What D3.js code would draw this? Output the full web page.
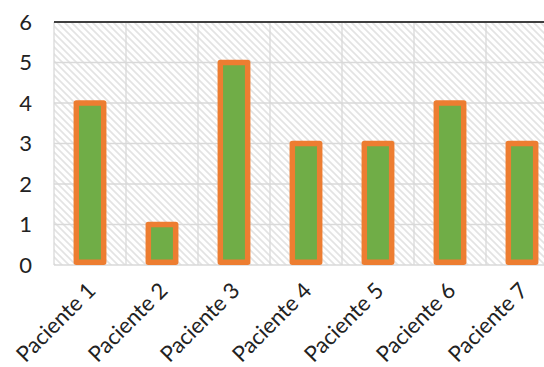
<!DOCTYPE html>
<html>
<head>
<meta charset="utf-8">
<script src="https://cdn.jsdelivr.net/npm/d3@7/dist/d3.min.js"></script>
<style>
  html, body { margin: 0; padding: 0; background: #ffffff; }
  svg { display: block; }
  text { font-family: Lato, "Open Sans", sans-serif; fill: #222222; }
</style>
</head>
<body>
<svg id="chart" width="544" height="367"></svg>
<script>
// Number of events per patient
const categories = ["Paciente 1", "Paciente 2", "Paciente 3", "Paciente 4", "Paciente 5", "Paciente 6", "Paciente 7"];
const values = [4, 1, 5, 3, 3, 4, 3];
const yTicks = [0, 1, 2, 3, 4, 5, 6];

const plot = { left: 54, top: 22, right: 558, bottom: 265 };

const svg = d3.select("#chart");

// Diagonal hatch used as the plot-area fill
const defs = svg.append("defs");
const pat = defs.append("pattern")
  .attr("id", "hatch")
  .attr("patternUnits", "userSpaceOnUse")
  .attr("width", 7).attr("height", 7);
pat.append("rect").attr("width", 7).attr("height", 7).attr("fill", "#ffffff");
pat.append("path")
  .attr("d", "M-2,-2 L9,9 M-2,5 L2,9 M5,-2 L9,2")
  .attr("stroke", "#e3e3e3")
  .attr("stroke-width", 1.6);

defs.append("clipPath").attr("id", "plotClip")
  .append("rect")
  .attr("x", plot.left).attr("y", plot.top)
  .attr("width", plot.right - plot.left)
  .attr("height", plot.bottom - plot.top);

const x = d3.scaleBand()
  .domain(categories)
  .range([plot.left, plot.right])
  .padding(0);

const y = d3.scaleLinear()
  .domain([0, 6])
  .range([plot.bottom, plot.top]);

// Plot background
svg.append("rect")
  .attr("x", plot.left).attr("y", plot.top)
  .attr("width", plot.right - plot.left)
  .attr("height", plot.bottom - plot.top)
  .attr("fill", "url(#hatch)");

// Horizontal gridlines
svg.append("g")
  .selectAll("line")
  .data(yTicks)
  .join("line")
  .attr("x1", plot.left).attr("x2", plot.right)
  .attr("y1", d => y(d)).attr("y2", d => y(d))
  .attr("stroke", "#d9d9d9")
  .attr("stroke-width", 1.3);

// Vertical gridlines at category boundaries
const bounds = categories.map(c => x(c)).concat([x(categories[categories.length - 1]) + x.bandwidth()]);
svg.append("g")
  .selectAll("line")
  .data(bounds)
  .join("line")
  .attr("x1", d => d).attr("x2", d => d)
  .attr("y1", plot.top).attr("y2", plot.bottom)
  .attr("stroke", "#d9d9d9")
  .attr("stroke-width", 1.3);

// Top axis line
svg.append("line")
  .attr("x1", plot.left).attr("x2", plot.right)
  .attr("y1", plot.top).attr("y2", plot.top)
  .attr("stroke", "#404040")
  .attr("stroke-width", 1.8);

// Bars
const sw = 5.5;
const barW = x.bandwidth() * 0.38;
svg.append("g")
  .attr("clip-path", "url(#plotClip)")
  .selectAll("rect")
  .data(values)
  .join("rect")
  .attr("x", (d, i) => x(categories[i]) + (x.bandwidth() - barW) / 2)
  .attr("y", d => y(d))
  .attr("width", barW)
  .attr("height", d => y(0) - y(d) - sw / 2)
  .attr("fill", "#70ad47")
  .attr("stroke", "#ed7d31")
  .attr("stroke-width", sw)
  .attr("stroke-linejoin", "round");

// Y tick labels
svg.append("g")
  .selectAll("text")
  .data(yTicks)
  .join("text")
  .attr("x", 32)
  .attr("y", d => y(d))
  .attr("dy", "0.36em")
  .attr("text-anchor", "end")
  .style("font-size", "22px")
  .text(d => d);

// Category labels, rotated
svg.append("g")
  .selectAll("text")
  .data(categories)
  .join("text")
  .attr("text-anchor", "end")
  .attr("transform", d => `translate(${x(d) + x.bandwidth() / 2 + 7},${plot.bottom + 27}) rotate(-45)`)
  .style("font-size", "22px")
  .text(d => d);
</script>
</body>
</html>
